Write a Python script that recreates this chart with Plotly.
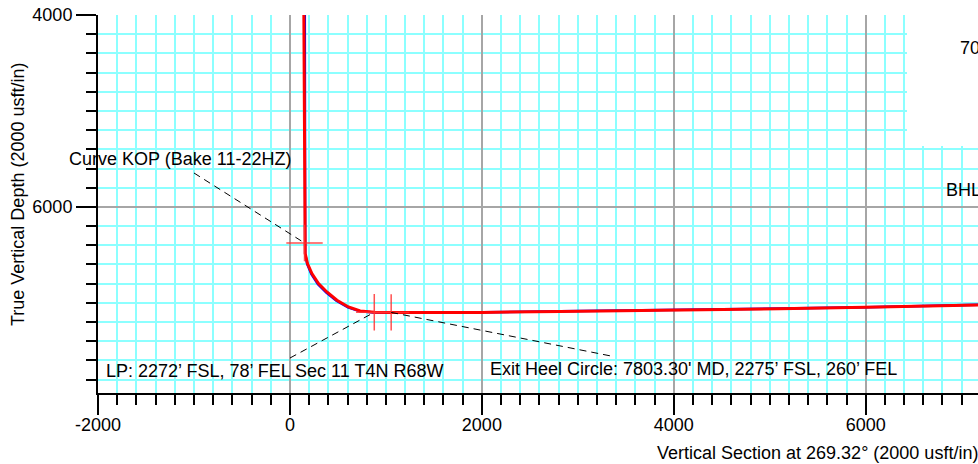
import plotly.graph_objects as go

# ---------------- data ----------------
# Actual (red) wellbore: vertical section (usft) and TVD (usft)
actual_vs = [145, 150, 152, 159, 183, 229, 298, 385, 490, 610, 732, 879,
             1055, 2000, 2816, 4000, 4900, 5100, 6000, 7170]
actual_tvd = [4000, 5200, 6376, 6486, 6591, 6695, 6800, 6887, 6973, 7043, 7085, 7099,
              7100, 7100, 7090, 7078, 7070, 7062, 7045, 7022]

# Plan (blue) wellbore
plan_vs = [155, 154, 153, 159, 180, 224, 292, 379, 484, 605, 730, 880,
           1055, 2000, 2816, 4000, 4900, 5100, 6000, 7170]
plan_tvd = [4000, 5200, 6376, 6489, 6596, 6701, 6806, 6893, 6978, 7047, 7089, 7101,
            7101, 7099, 7089, 7076, 7065, 7059, 7045, 7021]

# Key points: KOP, LP, exit heel circle
point_names = ["Curve KOP", "LP", "Exit Heel Circle"]
point_vs = [152, 879, 1055]
point_tvd = [6376, 7099, 7100]

x_tickvals = [-2000, 0, 2000, 4000, 6000]
x_ticktext = ["-2000", "0", "2000", "4000", "6000"]
y_tickvals = [4000, 6000]
y_ticktext = ["4000", "6000"]

label_kop = "Curve KOP (Bake 11-22HZ)"
label_lp = "LP: 2272’ FSL, 78’ FEL Sec 11 T4N R68W"
label_exit = "Exit Heel Circle: 7803.30' MD, 2275’ FSL, 260’ FEL"
label_bhl = "BHL"
label_top = "70"

x_title = "Vertical Section at 269.32° (2000 usft/in)"
y_title = "True Vertical Depth (2000 usft/in)"

x_range = [-2000, 7170]
y_range = [7940, 4000]

# ---------------- layout helpers ----------------
W, H = 978, 464
L, R, T, B = 98, 0, 15, 71
PW, PH = W - L - R, H - T - B


def px(x):
    return (x - L) / PW


def py(y):
    return (H - B - y) / PH


def dx(x):  # pixel -> data x
    return x_range[0] + (x - L) / PW * (x_range[1] - x_range[0])


def dy(y):  # pixel -> data y (reversed axis)
    return y_range[1] + (y - T) / PH * (y_range[0] - y_range[1])


FONT = "Liberation Sans, Arial, sans-serif"
CYAN = "#8CFFFF"
GRAY = "#A6A6A6"

fig = go.Figure()

fig.add_trace(go.Scatter(x=plan_vs, y=plan_tvd, mode="lines",
                         line=dict(color="#0000FF", width=2.5),
                         hoverinfo="skip", showlegend=False))
fig.add_trace(go.Scatter(x=actual_vs, y=actual_tvd, mode="lines",
                         line=dict(color="#FF0000", width=3),
                         hoverinfo="skip", showlegend=False))
fig.add_trace(go.Scatter(x=point_vs, y=point_tvd, mode="markers",
                         text=point_names,
                         marker=dict(symbol="cross-thin-open", size=26,
                                     color="rgba(255,50,50,0.85)",
                                     line=dict(color="rgba(255,50,50,0.85)", width=1.5)),
                         hoverinfo="text", showlegend=False))

axis_common = dict(
    showline=True, linecolor="black", linewidth=2,
    ticks="outside", ticklen=20, tickwidth=2, tickcolor="black",
    showgrid=True, gridcolor=GRAY, gridwidth=1.5,
    zeroline=False, tickmode="array",
    tickfont=dict(family=FONT, size=18, color="black"),
    minor=dict(tickmode="linear", dtick=200, tick0=0, ticks="outside", ticklen=10,
               tickwidth=2, tickcolor="black", showgrid=True, gridcolor=CYAN,
               gridwidth=1.5),
)

fig.update_xaxes(range=x_range, tickvals=x_tickvals, ticktext=x_ticktext, **axis_common)
fig.update_yaxes(range=y_range, tickvals=y_tickvals, ticktext=y_ticktext, **axis_common)
try:
    fig.update_xaxes(ticklabelstandoff=-6)
except Exception:
    pass

shapes = [
    # white label box in the upper right
    dict(type="rect", xref="paper", yref="paper",
         x0=px(907), x1=px(W + 20), y0=py(146), y1=py(-10),
         fillcolor="white", line=dict(width=0), layer="above"),
    # leader lines
    dict(type="line", xref="x", yref="y", x0=dx(194), y0=dy(173),
         x1=point_vs[0], y1=point_tvd[0],
         line=dict(color="black", width=1, dash="7px,5px"), layer="above"),
    dict(type="line", xref="x", yref="y", x0=dx(290), y0=dy(358),
         x1=point_vs[1], y1=point_tvd[1],
         line=dict(color="black", width=1, dash="7px,5px"), layer="above"),
    dict(type="line", xref="x", yref="y", x0=point_vs[2], y0=point_tvd[2],
         x1=dx(611), y1=dy(356),
         line=dict(color="black", width=1, dash="7px,5px"), layer="above"),
]

annotations = []


def add_label(text, x, y, anchor="left", angle=0):
    annotations.append(dict(text=text, xref="paper", yref="paper",
                            x=px(x), y=py(y), xanchor=anchor, yanchor="middle",
                            textangle=angle, showarrow=False,
                            font=dict(family=FONT, size=18, color="black")))


add_label(label_kop, 67, 159)
add_label(label_lp, 104, 370.5)
add_label(label_exit, 488, 368.5)
add_label(label_bhl, 944, 190)
add_label(label_top, 958, 48)
add_label(x_title, 655, 453)
annotations.append(dict(text=y_title, xref="paper", yref="paper",
                        x=px(18), y=py(195), xanchor="center", yanchor="middle",
                        textangle=-90, showarrow=False,
                        font=dict(family=FONT, size=18, color="black")))

fig.update_layout(
    width=W, height=H,
    margin=dict(l=L, r=R, t=T, b=B, pad=0),
    paper_bgcolor="white", plot_bgcolor="white",
    shapes=shapes, annotations=annotations,
    showlegend=False,
)

fig.write_html(
    "out.html",
    config={"displayModeBar": False},
    post_script="document.body.style.margin='0';document.body.style.overflow='hidden';",
)
